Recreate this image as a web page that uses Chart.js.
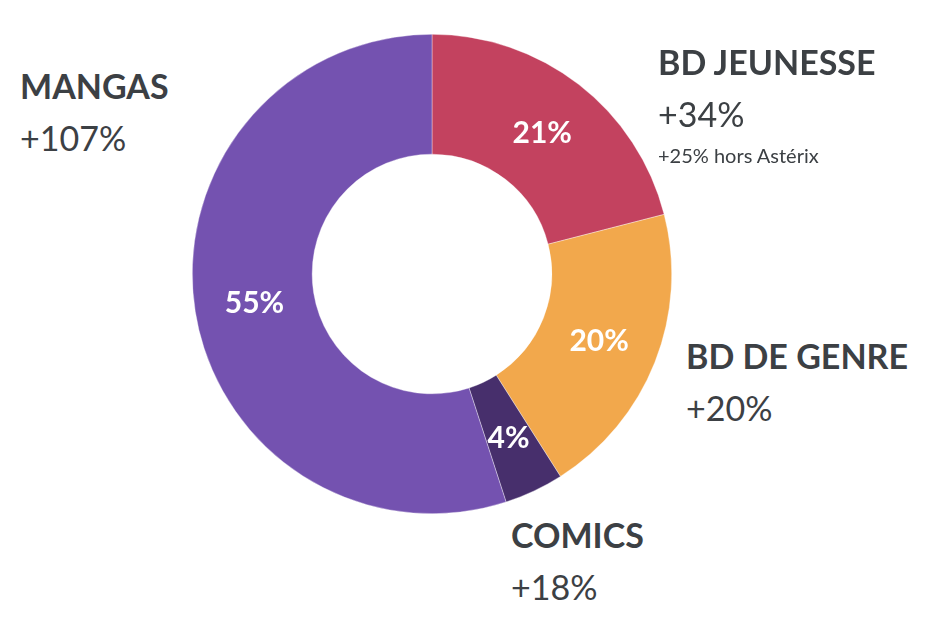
<!DOCTYPE html>
<html>
<head>
<meta charset="utf-8">
<script src="https://cdn.jsdelivr.net/npm/chart.js@4/dist/chart.umd.min.js"></script>
<style>
  html, body { margin: 0; padding: 0; background: #fff; }
  body { width: 930px; height: 626px; position: relative; overflow: hidden; font-family: Lato, sans-serif; color: #3c4044; }
  #chartWrap { position: absolute; left: 192px; top: 34px; width: 480px; height: 480px; }
  .lbl { position: absolute; white-space: nowrap; }
  .lbl .name { font-weight: 700; font-size: 34px; line-height: 40px; }
  .lbl .chg { font-weight: 400; font-size: 34px; line-height: 64px; }
  .lbl .note { font-weight: 400; font-size: 20px; line-height: 19px; }
</style>
</head>
<body>
<div id="chartWrap"><canvas id="donut"></canvas></div>
<div id="labels"></div>
<script>
// Parts of the market (share %), clockwise from 12 o'clock
const categories = ['BD JEUNESSE', 'BD DE GENRE', 'COMICS', 'MANGAS'];
const shares = [21, 20, 4, 55];
const growth = ['+34%', '+20%', '+18%', '+107%'];
const notes = ['+25% hors Astérix', '', '', ''];
const colors = ['#c3425f', '#f2a84c', '#472f6c', '#7452b0'];

// Where each outside label sits (px, page coords)
const labelPos = [
  { left: 658, top: 42 },
  { left: 686, top: 336 },
  { left: 511, top: 515 },
  { left: 20, top: 66 },
];

// Build outside labels
const labelsEl = document.getElementById('labels');
categories.forEach((name, i) => {
  const d = document.createElement('div');
  d.className = 'lbl';
  d.style.left = labelPos[i].left + 'px';
  d.style.top = labelPos[i].top + 'px';
  d.innerHTML = `<div class="name">${name}</div><div class="chg">${growth[i]}</div>` +
    (notes[i] ? `<div class="note">${notes[i]}</div>` : '');
  labelsEl.appendChild(d);
});

// Percent labels inside each slice
const sliceLabels = {
  id: 'sliceLabels',
  afterDatasetsDraw(chart) {
    const { ctx } = chart;
    const meta = chart.getDatasetMeta(0);
    ctx.save();
    ctx.fillStyle = '#ffffff';
    ctx.font = '700 30px Lato, sans-serif';
    ctx.textAlign = 'center';
    ctx.textBaseline = 'alphabetic';
    meta.data.forEach((arc, i) => {
      const p = arc.tooltipPosition();
      ctx.fillText(shares[i] + '%', p.x, p.y + 11);
    });
    ctx.restore();
  }
};

new Chart(document.getElementById('donut').getContext('2d'), {
  type: 'doughnut',
  data: {
    labels: categories,
    datasets: [{
      data: shares,
      backgroundColor: colors,
      borderColor: 'rgba(255,255,255,0.6)',
      borderWidth: 0.6,
    }],
  },
  options: {
    responsive: true,
    maintainAspectRatio: false,
    animation: false,
    cutout: '50%',
    plugins: { legend: { display: false }, tooltip: { enabled: false } },
  },
  plugins: [sliceLabels],
});
</script>
</body>
</html>
